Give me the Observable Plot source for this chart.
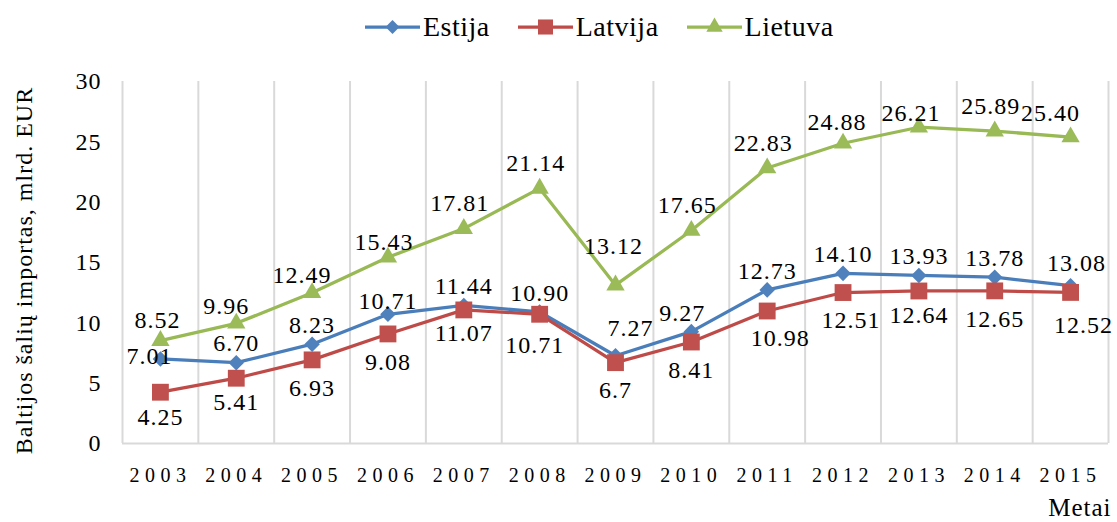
<!DOCTYPE html>
<html><head><meta charset="utf-8">
<script src="https://cdn.jsdelivr.net/npm/d3@7"></script>
<script src="https://cdn.jsdelivr.net/npm/@observablehq/plot@0.6"></script>
<style>
html,body{margin:0;padding:0;background:#fff;}
body{width:1117px;height:522px;overflow:hidden;font-family:"Liberation Serif","Times New Roman",serif;}
#legend{height:50px;display:flex;align-items:center;padding-left:365px;padding-top:4px;box-sizing:border-box;font-size:28px;letter-spacing:0.5px;color:#000;}
.item{display:flex;align-items:center;margin-right:28px;}
.item span{margin-left:3px;}
#chart svg text{letter-spacing:1px;}
#chart svg g[aria-label="x-axis tick label"] text{letter-spacing:5.5px;}
</style></head><body>
<div id="legend"></div><div id="chart"></div>
<script>
// ---- data ----
const years = [2003, 2004, 2005, 2006, 2007, 2008, 2009, 2010, 2011, 2012, 2013, 2014, 2015];
const estija  = ["7.01","6.70","8.23","10.71","11.44","10.90","7.27","9.27","12.73","14.10","13.93","13.78","13.08"];
const latvija = ["4.25","5.41","6.93","9.08","11.07","10.71","6.7","8.41","10.98","12.51","12.64","12.65","12.52"];
const lietuva = ["8.52","9.96","12.49","15.43","17.81","21.14","13.12","17.65","22.83","24.88","26.21","25.89","25.40"];
const seriesNames = ["Estija", "Latvija", "Lietuva"];
const yTicks = [0, 5, 10, 15, 20, 25, 30];
const yTitle = "Baltijos šalių importas, mlrd. EUR";
const xTitle = "Metai";

// ---- styles ----
const lineColors   = {Estija: "#4A7EBB", Latvija: "#BE4B48", Lietuva: "#98B954"};
const markerColors = {Estija: "#4F81BD", Latvija: "#C0504D", Lietuva: "#9BBB59"};
const symbols      = {Estija: "diamond2", Latvija: "square", Lietuva: "triangle"};
const d3Symbols    = {Estija: d3.symbolDiamond2, Latvija: d3.symbolSquare, Lietuva: d3.symbolTriangle};
const radii        = {Estija: 7, Latvija: 9.5, Lietuva: 6.8};
// label offsets (px) relative to point
const baseOffset = {Estija: [0, -19], Latvija: [0, 28], Lietuva: [-4, -25]};
const overrides = {
  "Estija-2003": [-11, -3], "Estija-2006": [0, -13], "Estija-2009": [15, -27], "Estija-2010": [-9, -18],
  "Estija-2015": [6, -22],
  "Latvija-2003": [0, 25], "Latvija-2004": [0, 24], "Latvija-2007": [0, 23], "Latvija-2008": [-5, 31],
  "Latvija-2011": [13, 27], "Latvija-2012": [8, 28], "Latvija-2013": [0, 24], "Latvija-2015": [13, 33],
  "Lietuva-2003": [-3, -20], "Lietuva-2004": [-10, -17], "Lietuva-2005": [-10, -17], "Lietuva-2006": [-4, -15],
  "Lietuva-2009": [-2, -39], "Lietuva-2012": [-6, -21], "Lietuva-2013": [-8, -14], "Lietuva-2015": [-20, -24]
};

const seriesValues = {Estija: estija, Latvija: latvija, Lietuva: lietuva};
const rows = [];
seriesNames.forEach(s => seriesValues[s].forEach((v, i) => rows.push({series: s, year: years[i], value: +v, label: v})));

// ---- legend ----
const legend = d3.select("#legend");
seriesNames.forEach(s => {
  const item = legend.append("div").attr("class", "item");
  const sv = item.append("svg").attr("width", 55).attr("height", 22);
  sv.append("line").attr("x1", 0).attr("x2", 55).attr("y1", 11).attr("y2", 11)
    .attr("stroke", lineColors[s]).attr("stroke-width", 3.25);
  sv.append("path").attr("transform", "translate(27.5,11)")
    .attr("d", d3.symbol(d3Symbols[s], Math.PI * radii[s] * radii[s] * 0.8)())
    .attr("fill", markerColors[s]);
  item.append("span").text(s);
});

// ---- chart ----
const bounds = [years[0] - 0.5, ...years.map(y => y + 0.5)];
const marks = [
  Plot.ruleX(bounds, {y1: yTicks[0], y2: yTicks[yTicks.length - 1], stroke: "#d9d9d9", strokeWidth: 2}),
  Plot.ruleY([0], {stroke: "#d9d9d9", strokeWidth: 2}),
  Plot.axisY({ticks: yTicks, tickSize: 0, tickPadding: 21, fontSize: 24, label: null}),
  Plot.axisX({ticks: years, tickFormat: d => String(d), tickSize: 0, tickPadding: 24, fontSize: 20, label: null}),
  Plot.text([yTitle], {frameAnchor: "left", rotate: -90, dx: -98, dy: 8, fontSize: 24, textAnchor: "middle"}),
  Plot.text([xTitle], {frameAnchor: "bottom-right", textAnchor: "end", lineAnchor: "bottom", dx: 3, dy: 72, fontSize: 25})
];
seriesNames.forEach(s => {
  const d = rows.filter(r => r.series === s);
  marks.push(Plot.line(d, {x: "year", y: "value", stroke: lineColors[s], strokeWidth: 3.25}));
  marks.push(Plot.dot(d, {x: "year", y: "value", symbol: () => symbols[s], r: radii[s], fill: markerColors[s], stroke: "none"}));
});
// labels grouped by offset
const groups = d3.group(rows, r => (overrides[r.series + "-" + r.year] || baseOffset[r.series]).join(","));
for (const [key, d] of groups) {
  const [dx, dy] = key.split(",").map(Number);
  marks.push(Plot.text(d, {x: "year", y: "value", text: "label", dx, dy, fontSize: 24, fill: "#000"}));
}

const chart = Plot.plot({
  width: 1117, height: 472,
  marginTop: 31, marginBottom: 79, marginLeft: 122, marginRight: 9,
  style: {fontFamily: '"Liberation Serif","Times New Roman",serif', fontSize: "24px", color: "#000", background: "#fff", overflow: "visible"},
  x: {domain: [years[0] - 0.5, years[years.length - 1] + 0.5]},
  y: {domain: [0, 30]},
  symbol: {type: "identity"},
  marks
});
document.getElementById("chart").appendChild(chart);
</script>
</body></html>
